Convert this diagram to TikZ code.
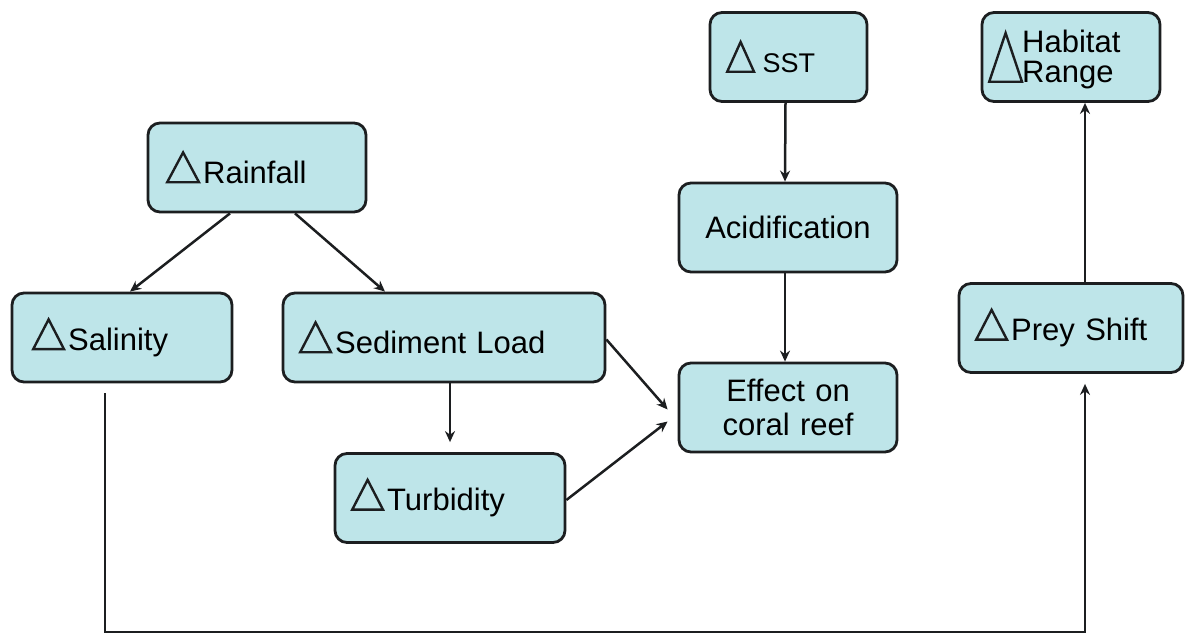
\documentclass[tikz,border=0pt]{standalone}
\usepackage{fontspec}
\setmainfont{Liberation Sans}
\usetikzlibrary{arrows.meta}
\definecolor{boxfill}{RGB}{190,229,233}
\definecolor{boxline}{RGB}{28,30,32}
\newcommand{\dlt}[2]{\tikz[baseline=0pt,x=1pt,y=1pt]\draw[draw=boxline,line width=1.2pt,sharp corners,line join=miter] (0.6,0.6) -- (#1,0.6) -- (#1/2+0.3,#2) -- cycle;\hspace{1.5pt}}
\tikzset{
  box/.style={draw=boxline, line width=1.4pt, fill=boxfill, rounded corners=6pt,
    minimum height=44.5pt, inner xsep=8pt, inner ysep=0pt, text width=#1, align=left,
    font=\fontsize{15.5}{18}\selectfont},
  cbox/.style={box=#1, align=center},
  arr/.style={-{Stealth[length=5.5pt,width=5pt]}, line width=1.25pt, boxline}
}
\begin{document}
\begin{tikzpicture}[x=0.5pt,y=-0.5pt]
\useasboundingbox (0,0) rectangle (1194,636);
\node[box=91pt, inner xsep=9pt] (rain) at (257,167.5) {\dlt{16.5}{15.5}Rainfall};
\node[box=90pt, inner xsep=10pt] (sal) at (122,337.5) {\dlt{16}{15.5}Salinity};
\node[box=145pt] (sed) at (444,337.5) {\dlt{16}{15.5}Sediment Load};
\node[box=99pt] (turb) at (450,498) {\dlt{16}{15.5}Turbidity};
\node[box=62.5pt, inner xsep=8pt, font=\fontsize{13.5}{16}\selectfont] (sst) at (788.5,57) {\dlt{14}{15.5}\,SST};
\node[cbox=93pt] (acid) at (788,227.5) {Acidification};
\node[cbox=93pt, font=\fontsize{15.5}{17}\selectfont] (coral) at (788,407.5) {Effect on\\coral reef};
\node[box=83pt, inner xsep=3pt] (hab) at (1071,57) {\raisebox{-13pt}[0pt][0pt]{\dlt{17}{25}\hspace{-2pt}\begin{tabular}[b]{@{}l@{}}Habitat\\[-3pt]Range\end{tabular}}};
\node[box=96pt] (prey) at (1071,328) {\dlt{16}{15.5}Prey Shift};
\coordinate (bot) at (600,632);
\draw[arr] ([xshift=-13.5pt]rain.south) -- ([xshift=4pt]sal.north);
\draw[arr] ([xshift=19pt]rain.south) -- ([xshift=-29.5pt]sed.north);
\draw[arr] ([xshift=3pt]sed.south) -- ([xshift=0pt,yshift=5pt]turb.north);
\draw[arr] ([yshift=-1pt]sed.east) -- ([xshift=-5pt,yshift=-1pt]coral.west);
\draw[arr] ([yshift=-1pt]turb.east) -- ([xshift=-5pt,yshift=-7pt]coral.west);
\draw[arr] ([xshift=-1.5pt]sst.south) -- ([xshift=-1.5pt]acid.north);
\draw[arr] ([xshift=-1.5pt]acid.south) -- ([xshift=-1.5pt]coral.north);
\draw[arr] ([xshift=7pt]prey.north) -- ([xshift=7pt]hab.south);
\draw[arr] ([xshift=-8.5pt,yshift=-5pt]sal.south) |- (bot) -| ([xshift=7pt,yshift=-5pt]prey.south);
\end{tikzpicture}
\end{document}
